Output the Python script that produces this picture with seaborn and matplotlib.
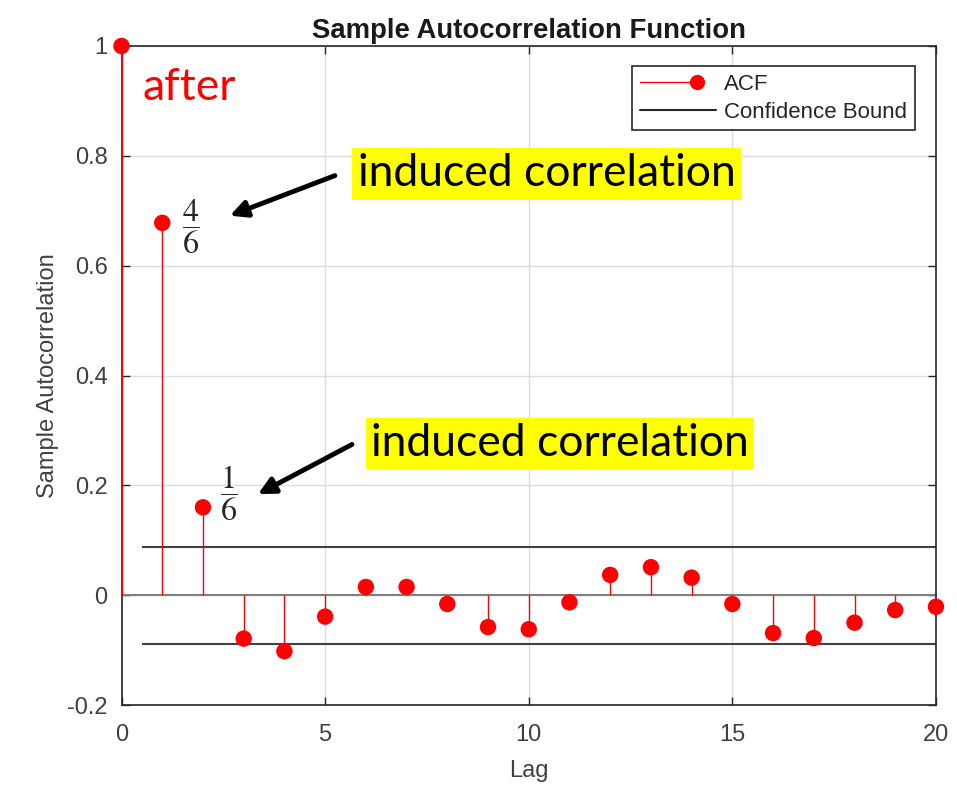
import numpy as np
import pandas as pd
import matplotlib
matplotlib.use("Agg")
import matplotlib.pyplot as plt
import seaborn as sns
from matplotlib.lines import Line2D
from matplotlib.legend_handler import HandlerLine2D, HandlerTuple

# ---- data ----
lags = list(range(21))
acf_values = [1.0, 0.678, 0.160, -0.079, -0.102, -0.039, 0.015, 0.015, -0.016,
              -0.058, -0.062, -0.013, 0.037, 0.051, 0.032, -0.016, -0.069,
              -0.078, -0.050, -0.027, -0.021]
conf_bound = 0.088
x_ticks = [0, 5, 10, 15, 20]
y_ticks = [-0.2, 0, 0.2, 0.4, 0.6, 0.8, 1]
y_tick_labels = ["-0.2", "0", "0.2", "0.4", "0.6", "0.8", "1"]
title = "Sample Autocorrelation Function"
xlabel = "Lag"
ylabel = "Sample Autocorrelation"
legend_labels = ["ACF", "Confidence Bound"]

df = pd.DataFrame({"lag": lags, "acf": acf_values})

sns.set_theme(style="ticks")
plt.rcParams["font.family"] = ["Liberation Sans", "DejaVu Sans"]
plt.rcParams["mathtext.fontset"] = "stix"

fig = plt.figure(figsize=(9.57, 7.86), dpi=100)
ax = fig.add_axes([0.127, 0.103, 0.851, 0.8385])

tick_color = "#404040"
ax.grid(True, color="#dcdcdc", linewidth=1.0)
ax.set_axisbelow(True)

# baseline
ax.axhline(0, color="#7f7f7f", linewidth=1.5, zorder=2)
# stems
ax.vlines(df["lag"], 0, df["acf"], color="#ff0000", linewidth=1.0, zorder=3)
# markers
sns.scatterplot(data=df, x="lag", y="acf", ax=ax, color="#ff0000", s=140,
                edgecolor="none", zorder=4, clip_on=False, legend=False)
# confidence bounds
ax.hlines([conf_bound, -conf_bound], 0.5, 20, color="#404040", linewidth=1.5, zorder=2)

ax.set_xlim(0, 20)
ax.set_ylim(-0.2, 1.0)
ax.set_xticks(x_ticks)
ax.set_yticks(y_ticks)
ax.set_yticklabels(y_tick_labels)
ax.tick_params(direction="in", top=True, right=True, length=6, width=1,
               colors="#262626", labelcolor=tick_color, labelsize=17)
ax.tick_params(axis="x", pad=14)
ax.tick_params(axis="y", pad=10)
for sp in ax.spines.values():
    sp.set_color("#262626")
    sp.set_linewidth(1.2)
    sp.set_visible(True)

ax.set_title(title, fontsize=19.8, fontweight="bold", color="#1a1a1a", pad=6)
ax.set_xlabel(xlabel, fontsize=17, color=tick_color, labelpad=10)
ax.set_ylabel(ylabel, fontsize=17, color=tick_color, labelpad=6)

MARK_FRAC = 0.76


class LinePartHandler(HandlerLine2D):
    def get_xdata(self, legend, xdescent, ydescent, width, height, fontsize):
        xdata = np.array([-xdescent, -xdescent + width * MARK_FRAC])
        return xdata, xdata


class MarkerPartHandler(HandlerLine2D):
    def get_xdata(self, legend, xdescent, ydescent, width, height, fontsize):
        xm = -xdescent + width * MARK_FRAC
        xdata = np.array([xm - 0.01, xm + 0.01])
        return xdata, xdata


h_line = Line2D([], [], color="#ff0000", linewidth=1.0)
h_mark = Line2D([], [], color="#ff0000", linestyle="none", marker="o",
                markersize=11, markerfacecolor="#ff0000", markeredgecolor="none")
h_cb = Line2D([], [], color="#262626", linewidth=1.5)
leg = ax.legend([(h_line, h_mark), h_cb], legend_labels, loc="upper right",
                bbox_to_anchor=(0.9745, 0.9695), fontsize=16, frameon=True,
                fancybox=False, edgecolor="#262626", framealpha=1,
                handlelength=3.4, handletextpad=0.4, borderpad=0.35,
                labelspacing=0.3, borderaxespad=0,
                handler_map={tuple: HandlerTuple(ndivide=1, pad=0),
                             h_line: LinePartHandler(),
                             h_mark: MarkerPartHandler()})
leg.get_frame().set_linewidth(1.2)
for t in leg.get_texts():
    t.set_color("#262626")

# annotations
ax.text(1.66, 0.924, "after", color="#ff0000", fontsize=32,
        family=["Lato", "DejaVu Sans"], ha="center", va="center")
for xc, yc in [(10.44, 0.767), (10.77, 0.276)]:
    ax.text(xc, yc, "induced correlation", color="black", fontsize=32,
            family=["Lato", "DejaVu Sans"], ha="center", va="center",
            bbox=dict(facecolor="#ffff00", edgecolor="none", pad=4))
ax.text(1.7, 0.672, r"$\dfrac{4}{6}$", fontsize=23, ha="center", va="center")
ax.text(2.63, 0.186, r"$\dfrac{1}{6}$", fontsize=23, ha="center", va="center")
arrow = dict(arrowstyle="-|>", color="black", lw=3.5, mutation_scale=25,
             shrinkA=0, shrinkB=0)
ax.annotate("", xy=(2.66, 0.691), xytext=(5.24, 0.764), arrowprops=arrow)
ax.annotate("", xy=(3.35, 0.184), xytext=(5.66, 0.2745), arrowprops=arrow)

fig.savefig("out.png", dpi=100)
